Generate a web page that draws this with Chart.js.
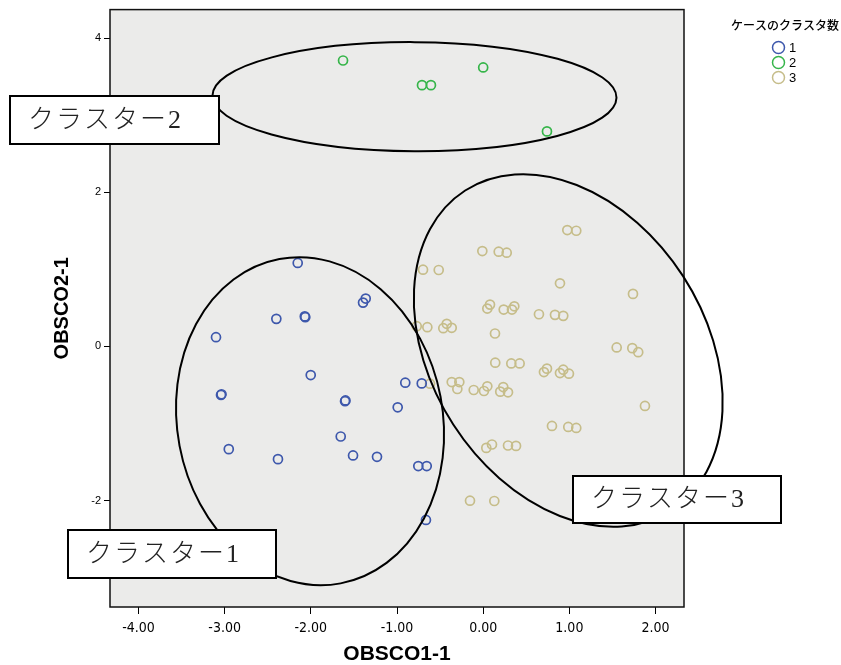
<!DOCTYPE html>
<html><head><meta charset="utf-8">
<script src="https://cdn.jsdelivr.net/npm/chart.js@4.4.1/dist/chart.umd.min.js"></script>
<style>html,body{margin:0;padding:0;background:#fff;}#wrap{width:841px;height:665px;}</style>
</head><body><div id="wrap"><canvas id="c" width="841" height="665"></canvas></div>
<script>
// ---- data ----
const seriesLabels = ['1', '2', '3'];
const legendTitle = 'ケースのクラスタ数';
const xLabel = 'OBSCO1-1';
const yLabel = 'OBSCO2-1';
const clusterNames = ['クラスター1', 'クラスター2', 'クラスター3'];
const xTicks = [-4, -3, -2, -1, 0, 1, 2];
const yTicks = [-2, 0, 2, 4];

const c1X = [-2.152, -1.363, -1.394, -2.400, -2.064, -2.070, -3.100, -2.001, -0.904, -0.713, -3.042, -3.036, -1.603, -1.598, -0.992, -1.653, -2.952, -2.381, -1.510, -1.232, -0.753, -0.655, -0.664];
const c1Y = [1.083, 0.621, 0.569, 0.358, 0.379, 0.390, 0.120, -0.371, -0.470, -0.479, -0.630, -0.620, -0.711, -0.700, -0.789, -1.168, -1.332, -1.462, -1.414, -1.432, -1.552, -1.552, -2.251];

const c2X = [-1.626, -0.710, -0.606, 0.000, 0.740];
const c2Y = [3.710, 3.390, 3.390, 3.620, 2.790];

const c3X = [0.976, 1.080, -0.010, 0.180, 0.273, -0.698, -0.516, 0.891, 1.738, 0.079, 0.048, 0.238, 0.361, 0.334, 0.647, 0.833, 0.929, -0.771, -0.648, -0.463, -0.423, -0.365, 0.137, 1.549, 1.730, 1.799, 0.140, 0.326, 0.423, 0.705, 0.740, 0.891, 0.929, 0.995, -0.617, -0.365, -0.277, -0.300, -0.110, 0.009, 0.048, 0.198, 0.233, 0.288, 1.877, 0.798, 0.987, 1.080, 0.036, 0.102, 0.288, 0.381, -0.153, 0.129];
const c3Y = [1.510, 1.501, 1.238, 1.229, 1.216, 0.996, 0.992, 0.819, 0.682, 0.543, 0.492, 0.479, 0.521, 0.479, 0.418, 0.410, 0.397, 0.263, 0.250, 0.237, 0.294, 0.242, 0.168, -0.013, -0.022, -0.074, -0.211, -0.220, -0.220, -0.332, -0.288, -0.345, -0.301, -0.353, -0.483, -0.462, -0.462, -0.552, -0.565, -0.578, -0.517, -0.586, -0.527, -0.595, -0.772, -1.031, -1.044, -1.057, -1.316, -1.272, -1.285, -1.290, -2.001, -2.005];

// ---- styles / annotations ----
const colors = ['#3E58AC', '#36B54A', '#C6BD8A'];
const ellipses = [
  { cx: -2.009, cy: -0.970, rx: 132.8, ry: 165, rot: -10.7 },
  { cx: -0.797, cy: 3.241, rx: 202, ry: 54.5, rot: 0.3 },
  { cx: 0.987, cy: -0.052, rx: 136.8, ry: 190.3, rot: -32.8 }
];
const boxes = [
  { x: 68, y: 530, w: 208, h: 48 },
  { x: 10, y: 96, w: 209, h: 48 },
  { x: 573, y: 476, w: 208, h: 47 }
];

function pts(xs, ys) { return xs.map((x, i) => ({ x: x, y: ys[i] })); }

const decor = {
  id: 'decor',
  beforeDatasetsDraw(chart) {
    const { ctx, chartArea: a } = chart;
    ctx.save();
    ctx.fillStyle = '#EBEBEA';
    ctx.fillRect(a.left, a.top, a.right - a.left, a.bottom - a.top);
    ctx.strokeStyle = '#111';
    ctx.lineWidth = 1.5;
    ctx.strokeRect(a.left, a.top, a.right - a.left, a.bottom - a.top);
    ctx.restore();
  },
  afterDraw(chart) {
    const { ctx, scales } = chart;
    ctx.save();
    // ellipses
    ctx.strokeStyle = '#000';
    ctx.lineWidth = 2;
    ellipses.forEach(e => {
      ctx.beginPath();
      ctx.ellipse(scales.x.getPixelForValue(e.cx), scales.y.getPixelForValue(e.cy), e.rx, e.ry, e.rot * Math.PI / 180, 0, Math.PI * 2);
      ctx.stroke();
    });
    // label boxes
    boxes.forEach((b, i) => {
      ctx.fillStyle = '#fff';
      ctx.fillRect(b.x, b.y, b.w, b.h);
      ctx.lineWidth = 2;
      ctx.strokeStyle = '#000';
      ctx.strokeRect(b.x, b.y, b.w, b.h);
      ctx.fillStyle = '#222';
      ctx.font = '300 26px "Liberation Serif", "Noto Sans CJK JP", serif';
      ctx.textAlign = 'left';
      ctx.textBaseline = 'middle';
      try { ctx.letterSpacing = '2px'; } catch (err) {}
      ctx.fillText(clusterNames[i], b.x + 18, b.y + b.h / 2 + 1);
      try { ctx.letterSpacing = '0px'; } catch (err) {}
    });
    // legend
    ctx.fillStyle = '#000';
    ctx.font = '500 12px "Noto Sans CJK JP", sans-serif';
    ctx.textAlign = 'left';
    ctx.textBaseline = 'middle';
    ctx.fillText(legendTitle, 731, 25);
    seriesLabels.forEach((lab, i) => {
      const y = 47.5 + i * 15;
      ctx.beginPath();
      ctx.arc(778.5, y, 6, 0, Math.PI * 2);
      ctx.strokeStyle = colors[i];
      ctx.lineWidth = 1.5;
      ctx.stroke();
      ctx.fillStyle = '#000';
      ctx.font = '13px "Liberation Sans Narrow", "Liberation Sans", sans-serif';
      ctx.fillText(lab, 789, y + 1);
    });
    ctx.restore();
  }
};

const tickFontX = { family: '"Liberation Sans Narrow", "DejaVu Sans Condensed", "Liberation Sans", sans-serif', size: 14 };
const tickFontY = { family: '"Liberation Sans", sans-serif', size: 11 };
const titleFont = { family: '"Liberation Sans", sans-serif', size: 21, weight: 'bold', lineHeight: 1 };

new Chart(document.getElementById('c'), {
  type: 'scatter',
  data: {
    datasets: [
      { label: seriesLabels[0], data: pts(c1X, c1Y), borderColor: colors[0] },
      { label: seriesLabels[1], data: pts(c2X, c2Y), borderColor: colors[1] },
      { label: seriesLabels[2], data: pts(c3X, c3Y), borderColor: colors[2] }
    ].map(d => Object.assign(d, { backgroundColor: 'rgba(0,0,0,0)', pointRadius: 4.5, pointBorderWidth: 1.7, pointHoverRadius: 4.5 }))
  },
  options: {
    responsive: false,
    animation: false,
    devicePixelRatio: 1,
    layout: { padding: { left: 0, right: 157, top: 8, bottom: 0 } },
    plugins: { legend: { display: false }, tooltip: { enabled: false } },
    scales: {
      x: {
        type: 'linear', min: -4.33, max: 2.33,
        afterBuildTicks: s => { s.ticks = xTicks.map(v => ({ value: v })); },
        afterFit: s => { s.height = 58; },
        grid: { drawOnChartArea: false, tickLength: 7, color: '#000', tickWidth: 1 },
        border: { display: false },
        ticks: { padding: 6, color: '#000', font: tickFontX, maxRotation: 0, callback: v => Number(v).toFixed(2) },
        title: { display: true, text: xLabel, color: '#000', font: titleFont, padding: { top: 0, bottom: 0 } }
      },
      y: {
        type: 'linear', min: -3.38, max: 4.37,
        afterBuildTicks: s => { s.ticks = yTicks.map(v => ({ value: v })); },
        afterFit: s => { s.width = 110; },
        grid: { drawOnChartArea: false, tickLength: 6, color: '#000', tickWidth: 1 },
        border: { display: false },
        ticks: { padding: 3, color: '#000', font: tickFontY, callback: v => String(v) },
        title: { display: true, text: yLabel, color: '#000', font: { family: '"Liberation Sans", sans-serif', size: 20, weight: 'bold', lineHeight: 1 }, padding: { top: 52, bottom: 0 } }
      }
    }
  },
  plugins: [decor]
});
</script></body></html>
